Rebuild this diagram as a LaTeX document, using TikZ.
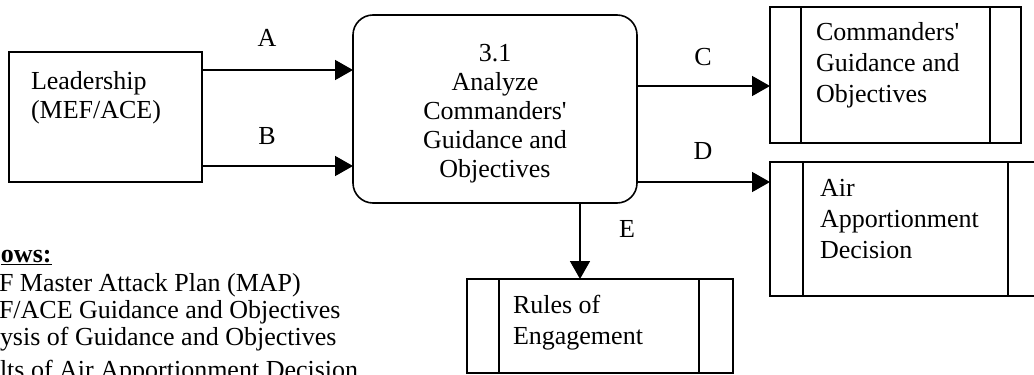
\documentclass[tikz,border=0pt]{standalone}
\usepackage{fontspec}
\setmainfont{Liberation Serif}
\usetikzlibrary{arrows.meta}
\begin{document}
\begin{tikzpicture}[x=1pt,y=-1pt,
  every node/.style={inner sep=0pt, outer sep=0pt, font=\fontsize{26}{29}\selectfont},
  boxshape/.style={draw, line width=1.6pt, minimum width=#1},
  flow/.style={line width=1.6pt, -{Triangle[length=18pt,width=20pt]}},
  txt/.style={align=left, anchor=north west},
  storetxt/.style={align=left, anchor=north west, font=\fontsize{26}{31}\selectfont},
  lbl/.style={anchor=center}
]
\useasboundingbox (0,0) rectangle (1034,375);
\clip (0,0) rectangle (1034,375);

% boxes
\node[boxshape=193pt, minimum height=130pt] (lead) at (105.5,117) {};
\node[boxshape=284pt, minimum height=188pt, rounded corners=20pt] (proc) at (495,109) {};
\node[boxshape=251pt, minimum height=136pt] (cgo) at (895.5,75) {};
\node[boxshape=271pt, minimum height=134pt] (aad) at (905.5,229) {};
\node[boxshape=266pt, minimum height=94pt] (roe) at (600,326) {};

% inner lines of storage boxes
\draw[line width=1.6pt] ([xshift=31pt]cgo.north west) -- ([xshift=31pt]cgo.south west);
\draw[line width=1.6pt] ([xshift=-31pt]cgo.north east) -- ([xshift=-31pt]cgo.south east);
\draw[line width=1.6pt] ([xshift=33pt]aad.north west) -- ([xshift=33pt]aad.south west);
\draw[line width=1.6pt] ([xshift=-33pt]aad.north east) -- ([xshift=-33pt]aad.south east);
\draw[line width=1.6pt] ([xshift=32pt]roe.north west) -- ([xshift=32pt]roe.south west);
\draw[line width=1.6pt] ([xshift=-34pt]roe.north east) -- ([xshift=-34pt]roe.south east);

% texts
\node[txt] (leadtxt) at (31,71.3) {Leadership\\(MEF/ACE)};
\node[align=center, anchor=north] (proctxt) at (495,44.4) {3.1\\Analyze\\Commanders\textquotesingle\\Guidance and\\Objectives};
\node[storetxt] (cgotxt) at (816,22.2) {Commanders\textquotesingle\\Guidance and\\Objectives};
\node[storetxt] (aadtxt) at (820,179.5) {Air\\Apportionment\\Decision};
\node[storetxt] (roetxt) at (513,295.2) {Rules of\\Engagement};

% flow anchors
\coordinate (ya) at (0,70);
\coordinate (yb) at (0,166);
\coordinate (yc) at (0,86);
\coordinate (yd) at (0,182);
\coordinate (xe) at (580,0);

\draw[flow] (lead.east |- ya) -- (proc.west |- ya);
\draw[flow] (lead.east |- yb) -- (proc.west |- yb);
\draw[flow] (proc.east |- yc) -- (cgo.west |- yc);
\draw[flow] (proc.east |- yd) -- (aad.west |- yd);
\draw[flow] (xe |- proc.south) -- (xe |- roe.north);

% flow labels
\node[lbl] (la) at (267,38) {A};
\node[lbl] (lb) at (267,136) {B};
\node[lbl] (lc) at (703,57) {C};
\node[lbl] (ld) at (703,151) {D};
\node[lbl] (le) at (627,229) {E};

% legend
\node[anchor=base west] (leg1) at (1,262) {\textbf{\underline{ows:}}};
\node[anchor=base west] (leg2) at (-1,291) {F Master Attack Plan (MAP)};
\node[anchor=base west] (leg3) at (-1,318) {F/ACE Guidance and Objectives};
\node[anchor=base west] (leg4) at (0,345) {ysis of Guidance and Objectives};
\node[anchor=base west] (leg5) at (0,378) {lts of Air Apportionment Decision};
\end{tikzpicture}
\end{document}
